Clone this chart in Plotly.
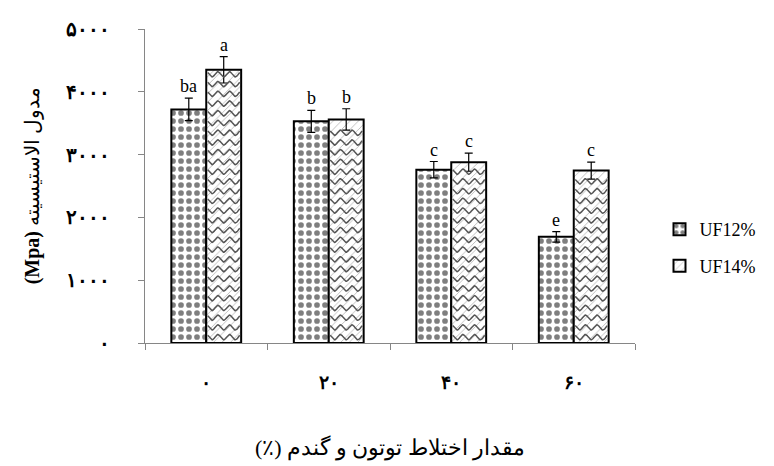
import numpy as np
import plotly.graph_objects as go

# Mixing level of tobacco and wheat (%) – Persian digits for tick labels
categories = ["۰", "۲۰", "۴۰", "۶۰"]
series_names = ["UF12%", "UF14%"]

uf12_values = [3720, 3530, 2760, 1690]
uf12_errors = [180, 175, 130, 85]
uf12_letters = ["ba", "b", "c", "e"]

uf14_values = [4350, 3560, 2880, 2745]
uf14_errors = [210, 170, 145, 135]
uf14_letters = ["a", "b", "c", "c"]

y_tickvals = [0, 1000, 2000, 3000, 4000, 5000]
y_ticktext = ["۰", "۱۰۰۰", "۲۰۰۰", "۳۰۰۰", "۴۰۰۰", "۵۰۰۰"]

x_pos = np.arange(len(categories))
bar_w = 0.285
serif = "Liberation Serif, Times New Roman, DejaVu Serif, serif"
axis_grey = "#868686"

fig = go.Figure()

fig.add_trace(go.Bar(
    x=x_pos, y=uf12_values, name=series_names[0], legendgroup="g1",
    width=bar_w, offset=-bar_w,
    marker=dict(color="white", line=dict(color="black", width=2),
                pattern=dict(shape=".", fgcolor="black", bgcolor="white",
                             size=8, solidity=0.4)),
    error_y=dict(type="data", array=uf12_errors, color="black",
                 thickness=1.2, width=4),
))

fig.add_trace(go.Bar(
    x=x_pos, y=uf14_values, name=series_names[1], legendgroup="g2",
    width=bar_w, offset=0,
    marker=dict(color="white", line=dict(color="black", width=2),
                pattern=dict(shape="/", fgcolor="#777777", bgcolor="white",
                             size=6, solidity=0.15)),
    error_y=dict(type="data", array=uf14_errors, color="black",
                 thickness=1.2, width=4),
))

# Wavy fill texture for the UF14% bars, bounded by each bar's extent
wave_x, wave_y = [], []
row_step = 155.0     # vertical distance between wave rows (data units)
amp = 42.0           # wave amplitude (data units)
period = bar_w / 3.0
for xi, top in zip(x_pos, uf14_values):
    xs = np.linspace(xi + 0.012, xi + bar_w - 0.012, 60)
    base = row_step * 0.6
    while base + amp < top - 25:
        ys = base + amp * np.cos(2 * np.pi * (xs - xi) / period)
        wave_x.extend(xs.tolist() + [None])
        wave_y.extend(ys.tolist() + [None])
        base += row_step
fig.add_trace(go.Scatter(
    x=wave_x, y=wave_y, mode="lines",
    line=dict(color="#555555", width=1.5),
    hoverinfo="skip", showlegend=False,
))

# Significance letters above the error bars
for xi, v, e, t in zip(x_pos, uf12_values, uf12_errors, uf12_letters):
    fig.add_annotation(x=xi - bar_w / 2, y=v + e, text=t, showarrow=False,
                       yanchor="bottom", yshift=0,
                       font=dict(family=serif, size=18, color="black"))
for xi, v, e, t in zip(x_pos, uf14_values, uf14_errors, uf14_letters):
    fig.add_annotation(x=xi + bar_w / 2, y=v + e, text=t, showarrow=False,
                       yanchor="bottom", yshift=0,
                       font=dict(family=serif, size=18, color="black"))

# Axis titles (right-to-left embedding for the Persian caption)
fig.add_annotation(xref="paper", yref="paper", x=0.5, y=-0.334,
                   text="\u202bمقدار اختلاط توتون و گندم (٪)\u202c",
                   showarrow=False, yanchor="middle",
                   font=dict(family=serif, size=22, color="black"))
fig.add_annotation(xref="paper", yref="paper", x=-0.23, y=0.5,
                   text="<b>(Mpa)</b> مدول الاستیسیته", showarrow=False,
                   textangle=-90, xanchor="center", yanchor="middle",
                   font=dict(family=serif, size=20, color="black"))

fig.update_layout(
    width=774, height=466,
    margin=dict(l=145, r=121, t=29, b=123),
    paper_bgcolor="white", plot_bgcolor="white",
    barmode="overlay",
    showlegend=True,
    legend=dict(x=1.05, y=0.42, xanchor="left", yanchor="top",
                traceorder="grouped", tracegroupgap=10,
                font=dict(family=serif, size=18, color="black"),
                bgcolor="rgba(0,0,0,0)", itemwidth=30),
    xaxis=dict(
        range=[-0.5, 3.5], tickmode="array", tickvals=x_pos.tolist(),
        ticktext=categories, ticks="", showgrid=False, zeroline=False,
        showline=True, linecolor=axis_grey, linewidth=1,
        ticklabelstandoff=22,
        tickfont=dict(family=serif, size=19, color="black", weight="bold"),
        minor=dict(tick0=-0.5, dtick=1, ticks="outside", ticklen=6,
                   tickcolor=axis_grey, showgrid=False),
    ),
    yaxis=dict(
        range=[0, 5000], tickmode="array", tickvals=y_tickvals,
        ticktext=y_ticktext, ticks="outside", ticklen=6,
        tickcolor=axis_grey, showgrid=False, zeroline=False,
        showline=True, linecolor=axis_grey, linewidth=1,
        ticklabelstandoff=24,
        tickfont=dict(family=serif, size=20, color="black", weight="bold"),
    ),
)

fig.write_html("out.html")
